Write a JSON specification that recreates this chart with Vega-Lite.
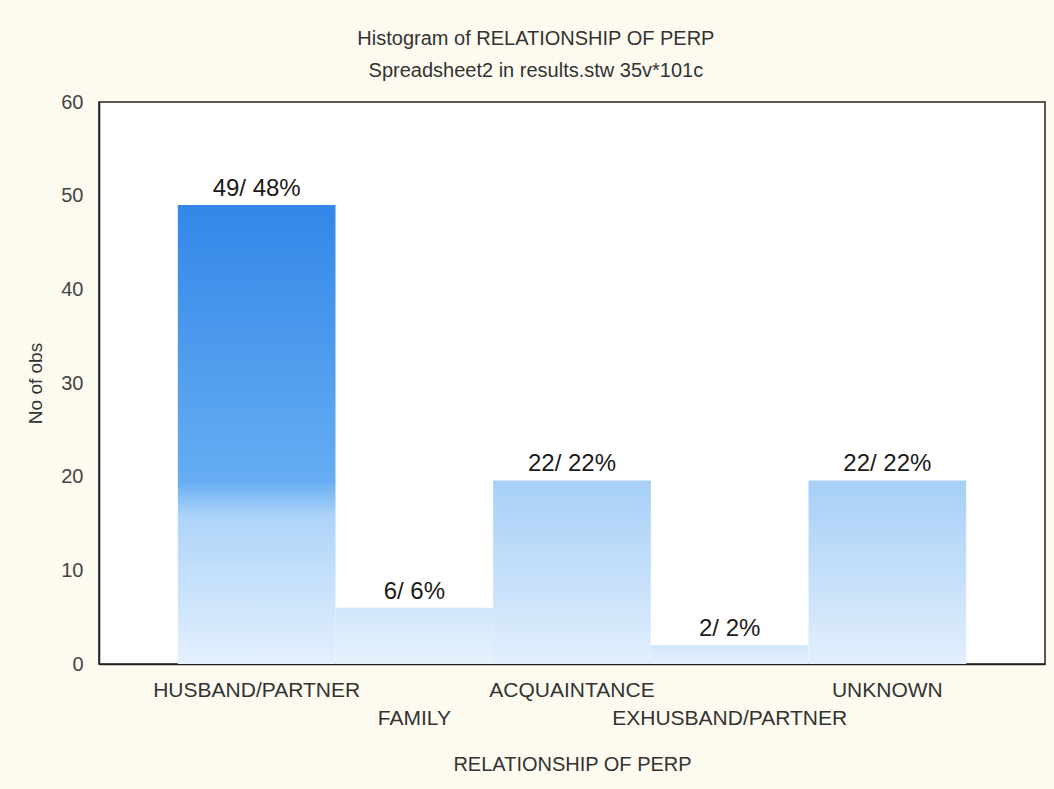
{
  "$schema": "https://vega.github.io/schema/vega-lite/v6.json",
  "width": 946,
  "height": 562,
  "autosize": {"type": "none"},
  "padding": {"left": 99, "top": 102, "right": 9, "bottom": 125},
  "background": "#fdfbf0",
  "title": {
    "text": "Histogram of RELATIONSHIP OF PERP",
    "subtitle": "Spreadsheet2 in results.stw 35v*101c",
    "anchor": "middle",
    "frame": "bounds",
    "font": "Liberation Sans",
    "fontSize": 20,
    "fontWeight": "normal",
    "color": "#333333",
    "subtitleFont": "Liberation Sans",
    "subtitleFontSize": 20,
    "subtitleColor": "#333333",
    "subtitlePadding": 12,
    "offset": 11
  },
  "config": {
    "view": {"fill": "white", "stroke": "#222222", "strokeWidth": 1.5},
    "font": "Liberation Sans"
  },
  "data": {
    "values": [
      {"cat": "HUSBAND/PARTNER", "obs": 49, "label": "49/ 48%"},
      {"cat": "FAMILY", "obs": 6, "label": "6/ 6%"},
      {"cat": "ACQUAINTANCE", "obs": 19.6, "label": "22/ 22%"},
      {"cat": "EXHUSBAND/PARTNER", "obs": 2, "label": "2/ 2%"},
      {"cat": "UNKNOWN", "obs": 19.6, "label": "22/ 22%"}
    ]
  },
  "encoding": {
    "x": {
      "field": "cat",
      "type": "nominal",
      "sort": null,
      "scale": {"paddingInner": 0, "paddingOuter": 0.5},
      "axis": {
        "title": "RELATIONSHIP OF PERP",
        "labelAngle": 0,
        "labelOverlap": false,
        "labelLimit": 0,
        "labelFontSize": 21,
        "labelColor": "#333333",
        "labelBaseline": "top",
        "labelLineHeight": 28,
        "labelPadding": 15,
        "labelExpr": "(datum.value == 'FAMILY' || datum.value == 'EXHUSBAND/PARTNER') ? ['', datum.label] : datum.label",
        "ticks": false,
        "domainColor": "#222222",
        "domainWidth": 1.5,
        "titleFontSize": 20,
        "titleFontWeight": "normal",
        "titleColor": "#333333",
        "titlePadding": 26
      }
    },
    "y": {
      "field": "obs",
      "type": "quantitative",
      "scale": {"domain": [0, 60]},
      "axis": {
        "title": "No of obs",
        "values": [0, 10, 20, 30, 40, 50, 60],
        "grid": false,
        "ticks": false,
        "labelPadding": 16,
        "labelFontSize": 20,
        "labelColor": "#444444",
        "domainColor": "#222222",
        "domainWidth": 1.5,
        "titleFontSize": 19,
        "titleFontWeight": "normal",
        "titleColor": "#333333",
        "titlePadding": 15
      }
    }
  },
  "layer": [
    {
      "mark": {"type": "bar"},
      "encoding": {
        "fill": {
          "condition": [
            {
              "test": "datum.obs > 30",
              "value": {
                "gradient": "linear", "x1": 0, "y1": 0, "x2": 0, "y2": 1,
                "stops": [
                  {"offset": 0, "color": "#3287e8"},
                  {"offset": 0.6, "color": "#66adf2"},
                  {"offset": 0.68, "color": "#aed4f9"},
                  {"offset": 1, "color": "#e4f0fd"}
                ]
              }
            },
            {
              "test": "datum.obs > 10",
              "value": {
                "gradient": "linear", "x1": 0, "y1": 0, "x2": 0, "y2": 1,
                "stops": [
                  {"offset": 0, "color": "#a6cff7"},
                  {"offset": 1, "color": "#e2effc"}
                ]
              }
            }
          ],
          "value": {
            "gradient": "linear", "x1": 0, "y1": 0, "x2": 0, "y2": 1,
            "stops": [
              {"offset": 0, "color": "#d2e7fb"},
              {"offset": 1, "color": "#e6f2fd"}
            ]
          }
        }
      }
    },
    {
      "mark": {"type": "text", "baseline": "alphabetic", "dy": -9, "fontSize": 24, "color": "#1a1a1a", "font": "Liberation Sans"},
      "encoding": {"text": {"field": "label"}}
    }
  ]
}
